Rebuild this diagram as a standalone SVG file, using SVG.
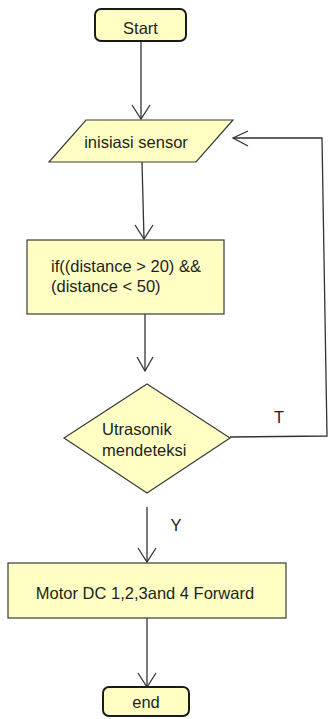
<svg xmlns="http://www.w3.org/2000/svg" width="328" height="719" viewBox="0 0 328 719">
  <style>
    .terminal { fill: #ffffc4; stroke: #1a1a1a; stroke-width: 2; }
    .box { fill: #ffffc4; stroke: #3a3a3a; stroke-width: 1.2; }
    .label { font-family: "Liberation Sans", Arial, sans-serif; font-size: 16.5px; fill: #1e1e1e; }
    .mid { text-anchor: middle; }
    .edge { fill: none; stroke: #333333; stroke-width: 1.3; }
    .head { fill: none; stroke: #333333; stroke-width: 1.3; stroke-linejoin: miter; }
  </style>
  <rect width="328" height="719" fill="#ffffff"/>

  <g id="connectors">
    <!-- Start -> inisiasi sensor -->
    <line class="edge" x1="141" y1="41" x2="141" y2="119"/>
    <polyline class="head" points="132,105 141,119 150,105"/>
    <!-- inisiasi sensor -> if -->
    <line class="edge" x1="142" y1="162" x2="144" y2="239"/>
    <polyline class="head" points="135,225 144,239 153,225"/>
    <!-- if -> decision -->
    <line class="edge" x1="145" y1="314" x2="145" y2="371"/>
    <polyline class="head" points="137,357 145,371 153,357"/>
    <!-- decision (T) -> back to inisiasi sensor -->
    <polyline class="edge" points="230,437 327,436 322,138 233,138"/>
    <polyline class="head" points="248,131 233,138 248,146"/>
    <text class="label mid" x="279" y="423">T</text>
    <!-- decision (Y) -> motor -->
    <line class="edge" x1="147" y1="507" x2="147" y2="562"/>
    <polyline class="head" points="138,548 147,562 156,548"/>
    <text class="label mid" x="176" y="531">Y</text>
    <!-- motor -> end -->
    <line class="edge" x1="147" y1="618" x2="147" y2="687"/>
    <polyline class="head" points="138,673 147,687 156,673"/>
  </g>

  <g id="start">
    <rect class="terminal" x="95" y="9" width="91" height="32" rx="6"/>
    <text class="label mid" x="140.5" y="34">Start</text>
  </g>

  <g id="init-sensor">
    <polygon class="box" points="86,120 233,120 196,162 49,162"/>
    <text class="label mid" x="136" y="148">inisiasi sensor</text>
  </g>

  <g id="distance-check">
    <rect class="box" x="27" y="240" width="197" height="74"/>
    <text class="label" x="51" y="272">if((distance &gt; 20) &amp;&amp;</text>
    <text class="label" x="51" y="292">(distance &lt; 50)</text>
  </g>

  <g id="ultrasonic-decision">
    <polygon class="box" points="147,384 230,438 147,493 64,438"/>
    <text class="label" x="102" y="435">Utrasonik</text>
    <text class="label" x="102" y="456">mendeteksi</text>
  </g>

  <g id="motor-forward">
    <rect class="box" x="8" y="563" width="278" height="55"/>
    <text class="label mid" x="145" y="599">Motor DC 1,2,3and 4 Forward</text>
  </g>

  <g id="end">
    <rect class="terminal" x="103" y="687" width="86" height="29" rx="6"/>
    <text class="label mid" x="146" y="708">end</text>
  </g>
</svg>
